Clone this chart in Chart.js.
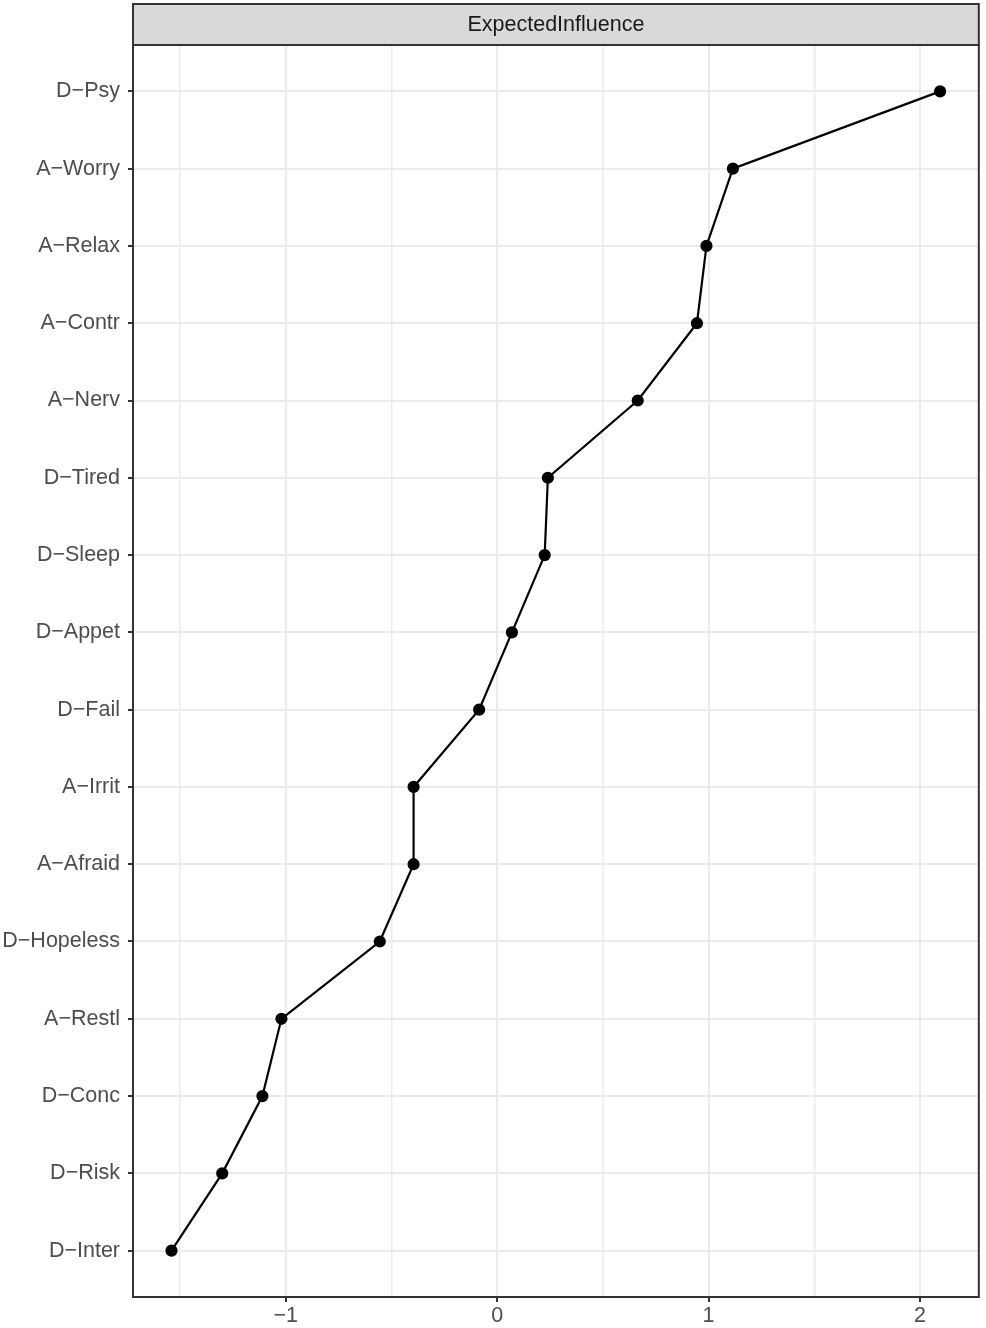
<!DOCTYPE html>
<html>
<head>
<meta charset="utf-8">
<script src="https://cdn.jsdelivr.net/npm/chart.js@4/dist/chart.umd.min.js"></script>
<style>
html,body{margin:0;padding:0;background:#fff;}
#wrap{width:986px;height:1328px;}
</style>
</head>
<body>
<div id="wrap"><canvas id="chart" width="986" height="1328"></canvas></div>
<script>
// nodes, top to bottom
const nodes = ["D\u2212Psy","A\u2212Worry","A\u2212Relax","A\u2212Contr","A\u2212Nerv","D\u2212Tired","D\u2212Sleep","D\u2212Appet","D\u2212Fail","A\u2212Irrit","A\u2212Afraid","D\u2212Hopeless","A\u2212Restl","D\u2212Conc","D\u2212Risk","D\u2212Inter"];
const expectedInfluence = [2.095,1.115,0.99,0.945,0.665,0.24,0.225,0.07,-0.085,-0.395,-0.395,-0.555,-1.02,-1.11,-1.30,-1.54];
const xTicks = [-1.5,-1,-0.5,0,0.5,1,1.5,2];
const stripTitle = "ExpectedInfluence";

const font = "'Liberation Sans', Arial, sans-serif";

const panelPlugin = {
  id:"panel",
  afterDraw(c){
    const ctx = c.ctx, a = c.chartArea;
    ctx.save();
    // strip
    ctx.fillStyle = "#d9d9d9";
    ctx.fillRect(a.left, 4, a.right - a.left, a.top - 4);
    ctx.strokeStyle = "#333";
    ctx.lineWidth = 2;
    ctx.strokeRect(a.left, 4, a.right - a.left, a.top - 4);
    ctx.fillStyle = "#1a1a1a";
    ctx.font = "21.5px " + font;
    ctx.textAlign = "center";
    ctx.textBaseline = "middle";
    ctx.fillText(stripTitle, (a.left + a.right) / 2, (4 + a.top) / 2 + 1);
    // panel border
    ctx.strokeRect(a.left, a.top, a.right - a.left, a.bottom - a.top);
    ctx.restore();
  }
};

const ctx = document.getElementById("chart");

new Chart(ctx,{
  type:"line",
  data:{
    datasets:[{
      label:stripTitle,
      data:expectedInfluence.map((v,i)=>({x:v,y:i+1})),
      borderColor:"#000",
      backgroundColor:"#000",
      borderWidth:2.2,
      pointRadius:5,
      pointHoverRadius:5,
      tension:0
    }]
  },
  options:{
    responsive:false,
    animation:false,
    layout:{padding:{top:45,right:3,left:0,bottom:0}},
    plugins:{
      legend:{display:false},
      tooltip:{enabled:false}
    },
    scales:{
      x:{
        type:"linear",
        min:-1.722,
        max:2.278,
        afterBuildTicks:s=>{ s.ticks = xTicks.map(v=>({value:v})); },
        afterFit:s=>{ s.height = 31; },
        border:{display:false},
        grid:{
          color:"#ebebeb",
          lineWidth:t=>Number.isInteger(t.tick && t.tick.value) ? 2 : 1.5,
          tickLength:5,
          tickColor:t=>Number.isInteger(t.tick && t.tick.value) ? "#333" : "rgba(0,0,0,0)",
          tickWidth:2
        },
        ticks:{
          color:"#4d4d4d",
          font:{family:font,size:21.5},
          padding:1,
          autoSkip:false,
          maxRotation:0,
          callback:v=>Number.isInteger(v) ? (v < 0 ? "\u2212" + Math.abs(v) : String(v)) : ""
        }
      },
      y:{
        type:"linear",
        reverse:true,
        min:0.4,
        max:16.6,
        afterBuildTicks:s=>{ s.ticks = nodes.map((n,i)=>({value:i+1})); },
        afterFit:s=>{ s.width = 133; },
        border:{display:false},
        grid:{
          color:"#ebebeb",
          lineWidth:2,
          tickLength:5,
          tickColor:"#333",
          tickWidth:2
        },
        ticks:{
          color:"#4d4d4d",
          font:{family:font,size:21.5},
          padding:8,
          autoSkip:false,
          callback:v=>nodes[v-1] || ""
        }
      }
    }
  },
  plugins:[panelPlugin]
});
</script>
</body>
</html>
